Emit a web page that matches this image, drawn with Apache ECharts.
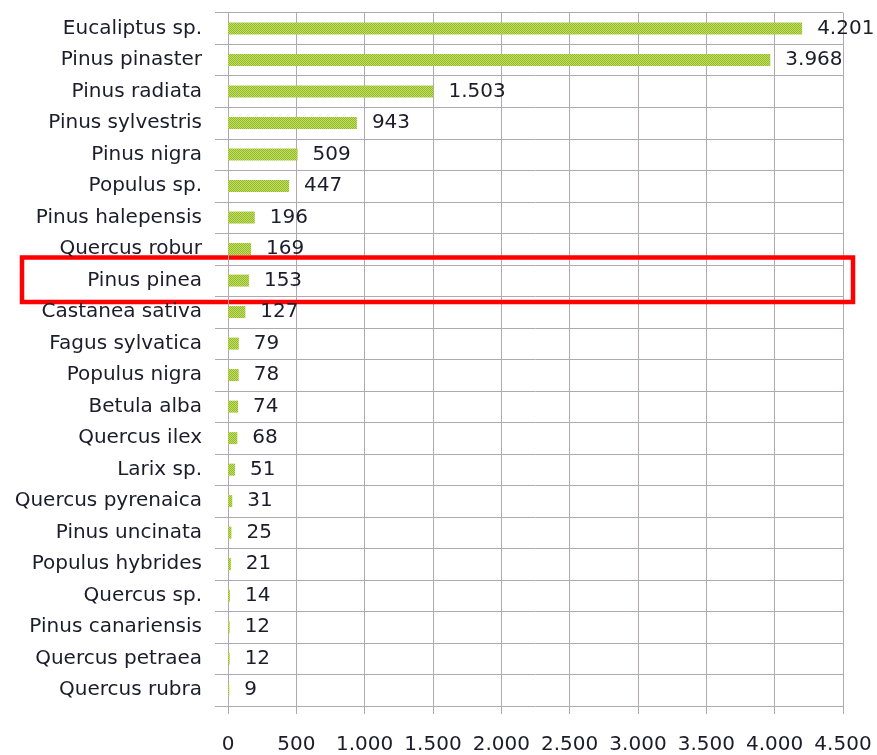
<!DOCTYPE html>
<html>
<head>
<meta charset="utf-8">
<script src="https://cdn.jsdelivr.net/npm/echarts@6/dist/echarts.min.js"></script>
<style>
html,body{margin:0;padding:0;background:#fff;}
#chart{width:877px;height:755px;}
</style>
</head>
<body>
<div id="chart"></div>
<script>
const categories = ["Eucaliptus sp.","Pinus pinaster","Pinus radiata","Pinus sylvestris","Pinus nigra","Populus sp.","Pinus halepensis","Quercus robur","Pinus pinea","Castanea sativa","Fagus sylvatica","Populus nigra","Betula alba","Quercus ilex","Larix sp.","Quercus pyrenaica","Pinus uncinata","Populus hybrides","Quercus sp.","Pinus canariensis","Quercus petraea","Quercus rubra"];
const values = [4201,3968,1503,943,509,447,196,169,153,127,79,78,74,68,51,31,25,21,14,12,12,9];
const highlighted = "Pinus pinea";
const xTicks = {min:0, max:4500, interval:500};

function fmt(v){ return String(v).replace(/\B(?=(\d{3})+(?!\d))/g, '.'); }

// dotted green pattern like the original fill
const pc = document.createElement('canvas');
pc.width = 2; pc.height = 2;
const pctx = pc.getContext('2d');
pctx.fillStyle = '#c4df52'; pctx.fillRect(0,0,2,2);
pctx.fillStyle = '#8fb83c'; pctx.fillRect(0,0,1,1); pctx.fillRect(1,1,1,1);

const font = 'DejaVu Sans';
const txt = '#1c1c2a';
const gridCol = '#b0aab0';
const chart = echarts.init(document.getElementById('chart'));
chart.setOption({
  animation:false,
  backgroundColor:'#fff',
  grid:{left:228, right:34, top:12.7, bottom:49, containLabel:false},
  xAxis:{
    type:'value', min:xTicks.min, max:xTicks.max, interval:xTicks.interval,
    axisLine:{show:false},
    axisTick:{show:true, length:8, lineStyle:{color:gridCol}},
    splitLine:{show:true, lineStyle:{color:gridCol, width:1}},
    axisLabel:{margin:29, color:txt, fontFamily:font, fontSize:20, formatter:fmt}
  },
  yAxis:{
    type:'category', data:categories, inverse:true,
    axisLine:{show:true, lineStyle:{color:gridCol}},
    axisTick:{show:true, length:13, lineStyle:{color:gridCol}},
    splitLine:{show:true, lineStyle:{color:gridCol, width:1}},
    axisLabel:{margin:26, color:txt, fontFamily:font, fontSize:20}
  },
  series:[{
    type:'bar', data:values, barWidth:12,
    itemStyle:{color:{image:pc, repeat:'repeat'}},
    label:{show:true, position:'right', distance:15, color:txt, fontFamily:font, fontSize:20, formatter:p=>fmt(p.value)}
  }]
});

// red highlight box around the highlighted category row
const idx = categories.indexOf(highlighted);
const c = chart.convertToPixel({yAxisIndex:0}, idx);
const band = chart.convertToPixel({yAxisIndex:0}, 1) - chart.convertToPixel({yAxisIndex:0}, 0);
chart.setOption({graphic:[{
  type:'rect', shape:{x:22, y:c - band*0.73, width:831, height:band*1.41},
  style:{fill:'none', stroke:'#ff0000', lineWidth:4.5}
}]});
</script>
</body>
</html>
